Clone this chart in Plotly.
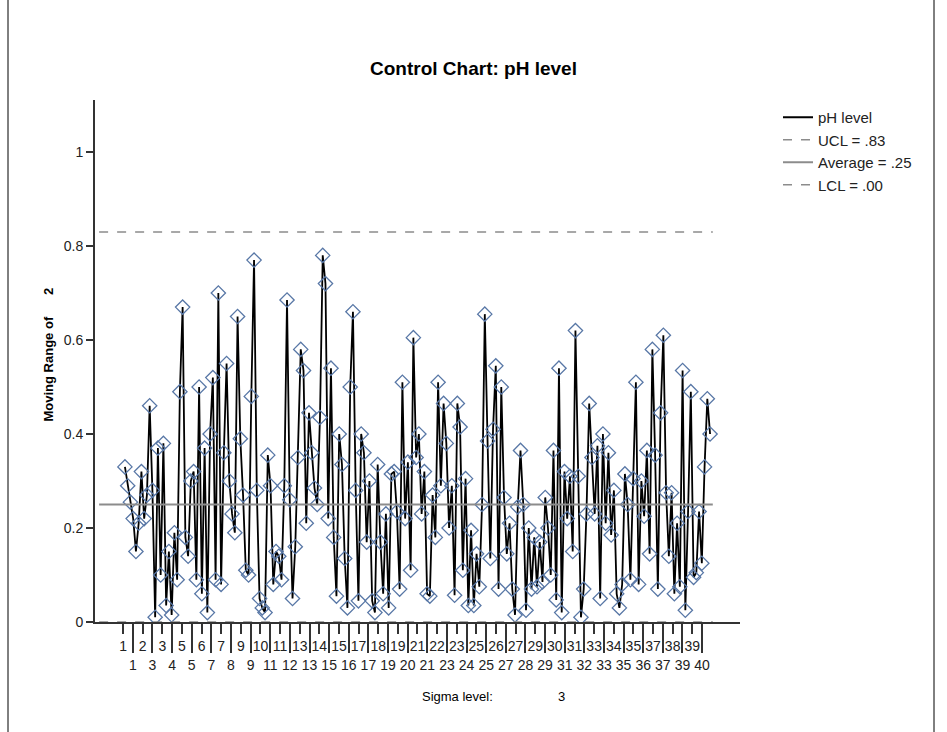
import numpy as np
import plotly.graph_objects as go

# moving range (span 2) values, in case order
moving_range = [
    0.33, 0.29, 0.255, 0.22, 0.15, 0.21, 0.32, 0.22, 0.27, 0.46, 0.28, 0.01, 0.37, 0.10, 0.38,
    0.035, 0.15, 0.015, 0.19, 0.09, 0.49, 0.67, 0.18, 0.14, 0.30, 0.32, 0.09, 0.50, 0.06, 0.37,
    0.02, 0.40, 0.52, 0.09, 0.70, 0.08, 0.36, 0.55,
    0.30, 0.23, 0.19, 0.65, 0.39, 0.27, 0.11, 0.10, 0.48, 0.77, 0.28, 0.05, 0.03, 0.02, 0.355,
    0.29, 0.08, 0.15, 0.14, 0.09, 0.29, 0.685, 0.26, 0.05, 0.16, 0.35, 0.58, 0.535, 0.21, 0.445,
    0.36, 0.285, 0.25, 0.435, 0.78, 0.72, 0.22, 0.54, 0.18, 0.055, 0.40, 0.335, 0.135, 0.03,
    0.50, 0.66, 0.28, 0.045, 0.40, 0.36, 0.17, 0.30, 0.045, 0.02, 0.335, 0.17, 0.06, 0.23, 0.03,
    0.315, 0.32, 0.235, 0.07, 0.51, 0.22, 0.34, 0.11, 0.605, 0.35, 0.40, 0.23, 0.32, 0.06, 0.055,
    0.27, 0.18, 0.51, 0.29, 0.465, 0.38, 0.20, 0.29, 0.057, 0.465, 0.415, 0.11, 0.305, 0.035,
    0.195, 0.035, 0.145, 0.075, 0.25, 0.655, 0.385, 0.135, 0.41, 0.545, 0.07, 0.50, 0.265, 0.145,
    0.21, 0.07, 0.015, 0.245, 0.365, 0.25, 0.025, 0.20, 0.07, 0.18, 0.075, 0.17, 0.085, 0.265,
    0.20, 0.10, 0.365, 0.047, 0.54, 0.02, 0.32, 0.22, 0.31, 0.15, 0.62, 0.31, 0.01, 0.07, 0.23,
    0.465, 0.35,
    0.23, 0.375, 0.05, 0.40, 0.21, 0.36, 0.185, 0.28, 0.06, 0.03, 0.08, 0.315, 0.25, 0.09, 0.305,
    0.51, 0.08, 0.30, 0.225, 0.365, 0.145, 0.58, 0.355, 0.07, 0.445, 0.61, 0.275, 0.14, 0.275,
    0.06, 0.21, 0.075, 0.535, 0.025, 0.235, 0.49, 0.095, 0.105, 0.235, 0.125, 0.33, 0.475, 0.40,
]

ucl = 0.83
average = 0.25
lcl = 0.0

# staggered category labels (SPSS puts every other one on a second row)
labels_top = [1, 2, 3, 5, 6, 7, 9, 10, 11, 13, 14, 15, 17, 18, 19, 21, 22, 23, 25, 26, 27,
              29, 30, 31, 33, 34, 35, 37, 38, 39]
labels_bottom = [1, 3, 4, 5, 7, 8, 9, 11, 12, 13, 15, 16, 17, 19, 20, 21, 23, 24, 25, 27, 28,
                 29, 31, 32, 33, 35, 36, 37, 39, 40]

n = len(moving_range)
x = np.arange(1, n + 1)
ticks = np.linspace(0.3, n - 2.9, len(labels_top) + len(labels_bottom))
x_range = [1 - 10.9, n + 10.9]
line_x = [x_range[0] + 1.5, n + 1]

FONT = "Liberation Sans, Arial, sans-serif"
GRAY = "#8c8c8c"

fig = go.Figure()
fig.add_trace(go.Scatter(
    x=x, y=moving_range, mode="lines+markers", name="pH level", showlegend=False,
    line=dict(color="black", width=1.8),
    marker=dict(symbol="diamond-open", size=11, color="#5877a6", line=dict(width=1.3)),
))
# legend entry for the data series: line only, like the original
fig.add_trace(go.Scatter(x=[None], y=[None], mode="lines", name="pH level",
                         line=dict(color="black", width=2)))
fig.add_trace(go.Scatter(x=line_x, y=[ucl, ucl], mode="lines", name="UCL = .83",
                         line=dict(color=GRAY, width=1.5, dash="dash")))
fig.add_trace(go.Scatter(x=line_x, y=[average, average], mode="lines", name="Average = .25",
                         xaxis="x2", line=dict(color=GRAY, width=2)))
fig.add_trace(go.Scatter(x=line_x, y=[lcl, lcl], mode="lines", name="LCL = .00",
                         line=dict(color=GRAY, width=1.5, dash="dash")))

fig.update_layout(
    width=947, height=732,
    margin=dict(l=95, r=207, t=100, b=110),
    paper_bgcolor="white", plot_bgcolor="white",
    font=dict(family=FONT, size=13, color="#222"),
    title=dict(text="<b>Control Chart: pH level</b>", x=0.5, xanchor="center",
               y=1 - 68 / 732, yanchor="middle", font=dict(size=19, color="black")),
    xaxis=dict(range=x_range, tickmode="array", tickvals=ticks[0::2],
               ticktext=[str(v) for v in labels_top], ticks="outside", ticklen=10,
               tickcolor="#333", tickwidth=1.5, showgrid=False, zeroline=False,
               showline=True, linecolor="#333", linewidth=2, tickfont=dict(size=14)),
    xaxis2=dict(overlaying="x", matches="x", anchor="y", side="bottom", tickmode="array",
                tickvals=ticks[1::2], ticktext=[str(v) for v in labels_bottom],
                ticks="outside", ticklen=30, tickcolor="#333", tickwidth=1.5,
                showgrid=False, zeroline=False, showline=False, tickfont=dict(size=14)),
    yaxis=dict(range=[0, 1.1106], tickvals=[0, 0.2, 0.4, 0.6, 0.8, 1],
               ticktext=["0", "0.2", "0.4", "0.6", "0.8", "1"],
               ticks="outside", ticklen=7, tickcolor="#333", tickwidth=1.5,
               showgrid=False, zeroline=False, showline=True, linecolor="#333",
               linewidth=2, tickfont=dict(size=14)),
    legend=dict(x=(778 - 95) / 645, y=(622 - 101) / 522, xanchor="left", yanchor="top",
                font=dict(size=15), bgcolor="rgba(0,0,0,0)", tracegroupgap=0,
                itemwidth=30),
    showlegend=True,
)

fig.add_annotation(text="<b>Moving Range of\u00a0\u00a0\u00a0\u00a0\u00a0\u00a02</b>",
                   textangle=-90, xref="paper", yref="paper",
                   x=(38 - 95) / 645, y=(622 - 355) / 522, showarrow=False,
                   font=dict(size=13, color="black"))
fig.add_annotation(text="Sigma level:", xref="paper", yref="paper",
                   x=(457 - 95) / 645, y=(622 - 706) / 522, showarrow=False,
                   font=dict(size=13, color="black"))
fig.add_annotation(text="3", xref="paper", yref="paper",
                   x=(567 - 95) / 645, y=(622 - 706) / 522, showarrow=False,
                   font=dict(size=13, color="black"))

# outer frame lines left and right
for px in (8, 934):
    fig.add_shape(type="line", xref="paper", yref="paper",
                  x0=(px - 95) / 645, x1=(px - 95) / 645,
                  y0=(622 - 732) / 522, y1=(622 - 0) / 522,
                  line=dict(color="black", width=1))

# drop the default page margin so the figure sits at the window's corner
fig.write_html("out.html", config={"displayModeBar": False},
               post_script="document.body.style.margin='0';")
